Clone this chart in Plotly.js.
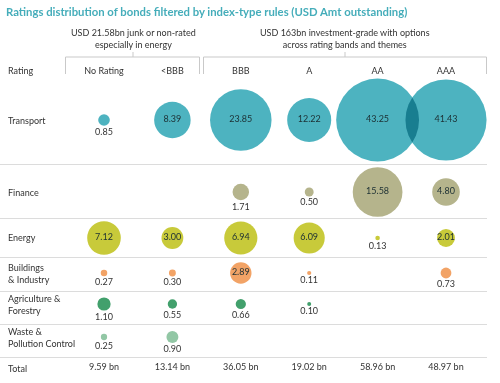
<!DOCTYPE html>
<html>
<head>
<meta charset="utf-8">
<script src="https://cdn.plot.ly/plotly-3.0.1.min.js"></script>
<style>
  html, body { margin: 0; padding: 0; background: #fff; }
  #chart { width: 500px; height: 383px; }
  .scatterlayer .trace .points path { mix-blend-mode: multiply; }
</style>
</head>
<body>
<div id="chart"></div>
<script>
// ---- data ----
const ratings = ["No Rating", "<BBB", "BBB", "A", "AA", "AAA"];
const sectors = ["Transport", "Finance", "Energy", "Buildings & Industry", "Agriculture & Forestry", "Waste & Pollution Control"];
const sectorLabels = ["Transport", "Finance", "Energy", "Buildings<br>& Industry", "Agriculture &<br>Forestry", "Waste &<br>Pollution Control"];
const transport   = [0.85, 8.39, 23.85, 12.22, 43.25, 41.43];
const finance     = [null, null, 1.71, 0.50, 15.58, 4.80];
const energy      = [7.12, 3.00, 6.94, 6.09, 0.13, 2.01];
const buildings   = [0.27, 0.30, 2.89, 0.11, null, 0.73];
const agriculture = [1.10, 0.55, 0.66, 0.10, null, null];
const waste       = [0.25, 0.90, null, null, null, null];
const totals      = [9.59, 13.14, 36.05, 19.02, 58.96, 48.97];
const groupHeaders = ["USD 21.58bn junk or non-rated<br>especially in energy",
                      "USD 163bn investment-grade with options<br>across rating bands and themes"];
const titleText = "Ratings distribution of bonds filtered by index-type rules (USD Amt outstanding)";

// ---- styling / layout helpers ----
const W = 500, H = 383;
const fx = p => p / W;
const fy = p => 1 - p / H;
const series = [transport, finance, energy, buildings, agriculture, waste];
const colors = ["#4db3c0", "#b5b48c", "#c8ca3a", "#f2a366", "#42a06c", "#92c7a5"];
const rowCenters = [120, 192, 238, 273, 304, 337, 368];
const FONT = "Lato, 'Open Sans', sans-serif";

const traces = [];
const layout = {
  width: W, height: H,
  margin: {l: 0, r: 0, t: 0, b: 0},
  paper_bgcolor: "#fff", plot_bgcolor: "rgba(0,0,0,0)",
  showlegend: false,
  font: {family: FONT, size: 9, color: "#333"},
  title: {text: titleText, x: fx(6), xanchor: "left", y: fy(12.5), yanchor: "middle",
          font: {family: FONT, size: 11.3, weight: 700, color: "#45adba"}},
  xaxis: {type: "category", categoryorder: "array", categoryarray: ratings,
          domain: [fx(69.8), fx(480.2)], range: [-0.5, 5.5],
          side: "top", anchor: "free", position: fy(76),
          showgrid: false, zeroline: false, showline: false, ticks: "",
          tickfont: {family: FONT, size: 9, color: "#333"}, fixedrange: true},
  annotations: [],
  shapes: []
};

function axName(i) { return i === 0 ? "y" : "y" + (i + 1); }
function axKey(i) { return i === 0 ? "yaxis" : "yaxis" + (i + 1); }

for (let i = 0; i < 7; i++) {
  const c = rowCenters[i];
  layout[axKey(i)] = {type: "category", domain: [fy(c + 12), fy(c - 12)], range: [-0.5, 0.5],
                      anchor: "x", showgrid: false, zeroline: false, showline: false,
                      showticklabels: false, ticks: "", fixedrange: true};
}

series.forEach((vals, i) => {
  const idx = vals.map((v, k) => k).filter(k => vals[k] !== null);
  const vs = idx.map(k => vals[k]);
  traces.push({
    type: "scatter", mode: "markers+text",
    x: idx.map(k => ratings[k]), y: idx.map(() => sectors[i]),
    xaxis: "x", yaxis: axName(i),
    marker: {size: vs, sizemode: "area", sizeref: 1 / 79.4, color: colors[i], opacity: 1, line: {width: 0}},
    text: vs.map(v => v.toFixed(2)),
    textposition: vs.map(v => v >= 2 ? "middle center" : "bottom center"),
    textfont: {family: FONT, size: 9, color: vs.map(v => v >= 2 ? "#1c2f33" : "#333")},
    cliponaxis: false, hoverinfo: "skip"
  });
  layout.annotations.push({xref: "paper", x: fx(6), xanchor: "left",
    yref: axName(i), y: 0, yanchor: "middle", align: "left", showarrow: false,
    text: sectorLabels[i], font: {family: FONT, size: 9, color: "#333"}});
});

traces.push({
  type: "scatter", mode: "text", x: ratings, y: ratings.map(() => "Total"),
  xaxis: "x", yaxis: axName(6),
  text: totals.map(v => v.toFixed(2) + " bn"), textposition: "middle center",
  textfont: {family: FONT, size: 9, color: "#333"}, cliponaxis: false, hoverinfo: "skip"
});
layout.annotations.push({xref: "paper", x: fx(6), xanchor: "left", yref: axName(6), y: 0,
  yanchor: "middle", showarrow: false, text: "Total", font: {family: FONT, size: 9, color: "#333"}});
layout.annotations.push({xref: "paper", x: fx(6), xanchor: "left", yref: "paper", y: fy(70),
  yanchor: "middle", showarrow: false, text: "Rating", font: {family: FONT, size: 9, color: "#333"}});

// group headers
[[133, groupHeaders[0]], [345, groupHeaders[1]]].forEach(([cx, t]) => {
  layout.annotations.push({xref: "paper", x: fx(cx), xanchor: "center", yref: "paper", y: fy(38),
    yanchor: "middle", align: "center", showarrow: false, text: t,
    font: {family: FONT, size: 9, color: "#333"}});
});

// brackets
const bracket = (x0, x1, xm) => {
  const p = `M${fx(x0)},${fy(74)} L${fx(x0)},${fy(57)} L${fx(x1)},${fy(57)} L${fx(x1)},${fy(74)} M${fx(xm)},${fy(57)} L${fx(xm)},${fy(52)}`;
  return {type: "path", xref: "paper", yref: "paper", path: p, line: {color: "#c9c9c9", width: 1}};
};
layout.shapes.push(bracket(65.5, 199.5, 133), bracket(203.5, 486.5, 345));

// separators
[164, 218, 257, 291, 324, 357].forEach(yy => {
  layout.shapes.push({type: "line", xref: "paper", yref: "paper", x0: 0, x1: fx(487),
    y0: fy(yy + 0.5), y1: fy(yy + 0.5), line: {color: "#dcdcdc", width: 1}, layer: "below"});
});

Plotly.newPlot("chart", traces, layout, {displayModeBar: false, staticPlot: true});
</script>
</body>
</html>
